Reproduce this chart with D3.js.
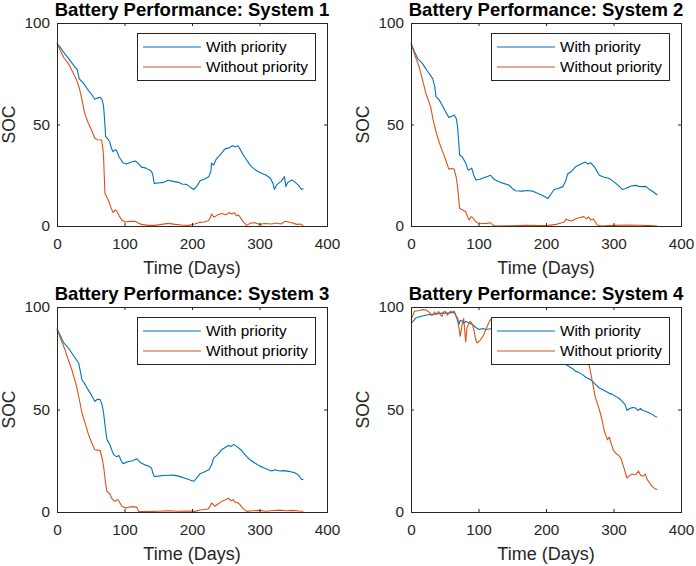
<!DOCTYPE html>
<html>
<head>
<meta charset="utf-8">
<script src="https://cdn.jsdelivr.net/npm/d3@7"></script>
<style>
  body { margin: 0; background: #fff; }
  svg { display: block; font-family: "Liberation Sans", Arial, sans-serif; }
</style>
</head>
<body>
<svg width="696" height="566"></svg>
<script>
// [day, SOC], one array per curve
const s1With = [[0,90],[5,88],[10,85.5],[17,82.6],[25,79],[30,77],[33,72.5],[40,70],[46,67],[52,64.5],[56,62.4],[60,63],[64,63.4],[67,62],[69,59],[71,50],[72,44],[75,43],[78,41.5],[81,38],[83,36.6],[86,37.5],[88,37.4],[92,34],[98,31],[103,30.5],[110,31.5],[116,32],[120,31],[125,29],[132,28.5],[140,27],[142,25],[144,21],[150,21.2],[158,21.5],[165,22.5],[172,22],[180,21.5],[185,20.7],[192,20.5],[198,19],[203,18],[208,20],[212,22.3],[218,23],[225,24.3],[228,27],[229,31],[232,30],[236,33],[239,34],[244,36],[249,38],[255,38.5],[260,39.5],[264,39],[268,39.5],[271,38],[276,35],[281,32.5],[286,30],[291,28.4],[297,27],[303,26],[310,25],[316,23.5],[320,21],[322,18],[325,20],[328,21],[332,22],[337,24.3],[339,19.4],[342,21.5],[348,22.7],[353,21.5],[358,20],[362,18],[365,18.5]];
const s1Without = [[0,90],[5,86.5],[10,83],[17,80],[23,76],[29,72],[33,68],[36,63.7],[41,55.5],[46,51],[51,47.3],[56,43.2],[60,42.5],[66,42.4],[68,38],[69,34],[71,16],[74,14],[76,12.8],[80,9],[83,6.6],[86,7.8],[88,7.6],[92,5],[96,3],[101,2],[108,2.3],[116,2.3],[120,1.5],[125,0.8],[135,0.3],[145,0.3],[155,0.8],[165,1.3],[175,0.8],[185,0.5],[195,0.3],[204,1],[212,1.8],[218,2],[224,2.6],[227,4],[229,5.9],[232,4.5],[234,4.6],[238,5.5],[244,6.2],[250,5.5],[255,6.5],[259,5.9],[263,6.5],[266,5],[269,5.4],[272,4],[276,2],[281,0.3],[287,1.5],[293,1.6],[300,0.8],[308,1.2],[318,1],[325,1.5],[332,1],[338,2.3],[343,2],[348,1.6],[355,0.8],[360,1],[365,0.3]];

const s2With = [[0,90],[5,86],[10,82.5],[17,80],[25,76],[32,72.7],[35,69],[37,63.7],[42,62],[46,59.6],[50,57],[56,53.5],[60,54],[64,54.7],[67,53],[69,49],[71,40],[72,35],[76,34],[81,31],[84,28],[86,27.6],[90,28.5],[93,25],[96,22.7],[102,23],[110,24],[118,25],[123,23],[130,21.8],[137,21],[145,20.2],[150,18.5],[155,17.4],[165,17.2],[172,17.5],[180,17.2],[188,16],[195,15],[203,13.6],[208,16],[212,18],[218,18.5],[225,19.4],[229,22],[232,25.6],[238,27],[244,29.2],[249,30],[254,30.9],[258,31.5],[262,30.5],[266,31.2],[272,29],[279,25],[286,24],[293,23.5],[300,22],[307,20],[313,18],[318,18.5],[326,19.7],[333,20],[338,19.5],[343,19.4],[348,19.5],[353,18],[358,17],[365,15.3]];
const s2Without = [[0,90],[6,84],[12,78.5],[17,72],[22,65.4],[29,58.8],[33,52],[37,46.5],[42,41],[46,37.4],[51,33],[56,28],[60,28.3],[64,28],[67,24],[69,19.4],[72,8.7],[76,8],[81,7],[84,4.5],[86,3],[89,4.5],[91,4.3],[95,2.5],[98,1.6],[105,1.2],[112,1.3],[118,1.6],[121,0.5],[125,0],[150,0.1],[170,0.3],[190,0.2],[204,0.3],[215,0.8],[222,1.5],[227,2],[230,3.5],[232,3],[238,2.5],[244,3.6],[250,4.2],[256,4.6],[260,3.5],[263,4.5],[266,3],[270,3.5],[273,2],[276,0.5],[282,0],[300,0.3],[320,0.5],[340,0.4],[355,0.2],[365,0]];

const s3With = [[0,89.4],[5,86],[10,82.5],[17,80],[25,76],[32,72.7],[35,68],[37,64.5],[42,62],[46,59.7],[51,57],[56,54],[60,55],[64,54.8],[67,52],[69,48.3],[72,40],[74,35.3],[78,33],[81,30.4],[84,28],[88,27],[92,27.5],[95,25],[98,23.6],[105,24.5],[112,25],[118,26],[124,24],[130,23],[135,22.5],[140,21.5],[142,19],[144,17.4],[150,17.5],[157,17.8],[165,17.9],[172,18],[180,17.5],[185,17],[192,16.2],[198,15.5],[203,15],[208,17],[212,18.7],[218,19.5],[225,20.6],[229,23],[232,26.3],[238,28],[244,30.4],[249,31.5],[254,32.4],[258,32],[262,33],[266,32],[272,30.5],[281,27],[286,25.5],[293,23.9],[300,22.5],[307,21.5],[313,20.6],[318,20],[323,20.6],[330,20],[336,20.2],[343,19.8],[348,19.5],[353,19],[358,18],[362,16],[365,15.8]];
const s3Without = [[0,89.4],[6,84],[12,79],[17,74],[22,69.4],[29,61.3],[33,55],[37,48.3],[42,43],[46,38.5],[51,34],[56,30.4],[60,30.2],[64,30],[67,26],[69,22.3],[72,14],[74,10],[78,9],[81,6.8],[84,5.5],[86,5.2],[89,6],[91,5.7],[94,4],[96,2.8],[102,2],[110,2.6],[118,2.4],[121,0.3],[130,0.2],[150,0.4],[165,0.6],[180,0.4],[195,0.5],[204,0.3],[212,1],[218,1.2],[224,1.5],[227,3],[229,4.4],[232,3.5],[234,2.8],[239,4],[244,5.2],[250,6],[254,6.7],[258,5.5],[261,6],[264,4.7],[268,4.5],[271,3.6],[276,1.5],[281,0.3],[290,0.6],[300,0.8],[310,0.4],[320,0.7],[330,0.9],[340,0.6],[350,0.8],[358,0.5],[365,0.4]];

const s4With = [[0,92.2],[3,93],[7,94.6],[15,95.5],[27,96.3],[35,96.5],[46,97],[55,97],[64,97.4],[66,96],[69,94.6],[71,91.4],[73,93.5],[76,93],[78,92],[81,93],[86,92.2],[91,91.5],[96,90],[101,89],[106,89.5],[111,89],[116,89.3],[120,89.5],[130,88],[140,87.5],[150,86],[160,85],[170,83],[180,81.5],[190,80],[200,78],[210,76],[220,74],[229,72],[234,71],[239,70],[244,68.6],[249,68],[254,67],[260,65.5],[264,65],[269,63.7],[274,62],[279,60.5],[285,59.5],[293,58],[298,57.5],[303,56.4],[308,55.5],[313,54],[317,52.5],[320,49.6],[324,50.5],[328,51],[333,50.7],[336,49.5],[340,50.5],[343,49.6],[348,49],[353,48.3],[358,47.5],[362,46.5],[365,46.3]];
const s4Without = [[0,93.8],[3,96],[5,97.9],[10,98.2],[17,98.7],[22,98.5],[27,97.5],[31,95.8],[35,97.5],[37,96.3],[41,97.8],[44,96],[46,95.4],[48,97.5],[51,97.8],[54,96],[56,97],[59,98],[61,97.5],[64,97.9],[66,96.5],[70,92],[73,85.7],[76,92],[78,94.5],[81,83],[83,90],[86,92],[88,93],[91,91.5],[93,89],[96,84],[98,82.4],[103,84],[107,86],[111,89],[116,93],[120,94.6],[126,93],[135,92.5],[150,91.5],[170,91],[190,90.5],[210,90],[230,89],[245,87],[255,82],[262,74],[265,70],[269,63],[273,56],[279,50],[283,45],[286,40],[289,37],[291,35.3],[294,36.5],[296,34],[300,30],[303,28.8],[308,27.5],[311,26.3],[315,22],[320,16.6],[323,17.5],[327,18.5],[333,18.2],[337,20],[340,18],[343,17.4],[347,18.5],[350,15.8],[354,14],[357,12.5],[361,11.5],[365,10.9]];

const xTicks = [0, 100, 200, 300, 400];
const yTicks = [0, 50, 100];
const seriesNames = ['With priority', 'Without priority'];
const seriesColors = ['#0072BD', '#D95319'];

const panels = [
  { title: 'Battery Performance: System 1', left: 57,  top: 23,  h: 203, data: [s1With, s1Without] },
  { title: 'Battery Performance: System 2', left: 411, top: 23,  h: 203, data: [s2With, s2Without] },
  { title: 'Battery Performance: System 3', left: 57,  top: 307, h: 205, data: [s3With, s3Without] },
  { title: 'Battery Performance: System 4', left: 411, top: 307, h: 205, data: [s4With, s4Without] }
];

const svg = d3.select('svg');
const axisColor = '#262626';
const W = 270;

panels.forEach(p => drawPanel(p));

function drawPanel(p) {
  const g = svg.append('g').attr('transform', `translate(${p.left},${p.top})`);
  const x = d3.scaleLinear().domain([0, 400]).range([0, W]);
  const y = d3.scaleLinear().domain([0, 100]).range([p.h, 0]);

  // curves
  const line = d3.line().x(d => x(d[0])).y(d => y(d[1]));
  p.data.forEach((s, i) => {
    g.append('path')
      .datum(s)
      .attr('fill', 'none')
      .attr('stroke', seriesColors[i])
      .attr('stroke-width', 1.1)
      .attr('stroke-linejoin', 'round')
      .attr('d', line);
  });

  // axes, ticks pointing inward on all four sides
  const styleAxis = sel => {
    sel.select('.domain').remove();
    sel.selectAll('line').attr('stroke', axisColor);
    sel.selectAll('text').attr('fill', axisColor).style('font-size', '15.3px');
  };
  g.append('g').attr('transform', `translate(0,${p.h})`)
    .call(d3.axisBottom(x).tickValues(xTicks).tickSize(-3).tickPadding(12))
    .call(styleAxis);
  g.append('g')
    .call(d3.axisTop(x).tickValues(xTicks).tickSize(-3).tickFormat(''))
    .call(styleAxis);
  g.append('g')
    .call(d3.axisLeft(y).tickValues(yTicks).tickSize(-3).tickPadding(7))
    .call(styleAxis);
  g.append('g').attr('transform', `translate(${W},0)`)
    .call(d3.axisRight(y).tickValues(yTicks).tickSize(-3).tickFormat(''))
    .call(styleAxis);

  g.append('rect')
    .attr('x', 0).attr('y', 0).attr('width', W).attr('height', p.h)
    .attr('fill', 'none').attr('stroke', axisColor).attr('stroke-width', 1)
    .attr('shape-rendering', 'crispEdges');

  // labels
  g.append('text')
    .attr('x', W / 2).attr('y', -7.5)
    .attr('text-anchor', 'middle')
    .style('font-size', '18.5px').style('font-weight', 'bold')
    .attr('fill', '#000')
    .text(p.title);
  g.append('text')
    .attr('x', W / 2).attr('y', p.h + 47.5)
    .attr('text-anchor', 'middle')
    .style('font-size', '18px')
    .attr('fill', axisColor)
    .text('Time (Days)');
  g.append('text')
    .attr('transform', `translate(-42,${p.h / 2}) rotate(-90)`)
    .attr('text-anchor', 'middle')
    .style('font-size', '17.5px')
    .attr('fill', axisColor)
    .text('SOC');

  // legend
  const lw = 178.5, lh = 46.5;
  const lg = g.append('g').attr('transform', `translate(${W - 11.5 - lw},10.5)`);
  lg.append('rect')
    .attr('width', lw).attr('height', lh)
    .attr('fill', '#fff').attr('stroke', axisColor).attr('stroke-width', 1)
    .attr('shape-rendering', 'crispEdges');
  seriesNames.forEach((name, i) => {
    const ly = 13.5 + i * 20;
    lg.append('line')
      .attr('x1', 6).attr('x2', 64).attr('y1', ly).attr('y2', ly)
      .attr('stroke', seriesColors[i]).attr('stroke-width', 1.1);
    lg.append('text')
      .attr('x', 69).attr('y', ly).attr('dy', '0.35em')
      .style('font-size', '15.3px')
      .attr('fill', '#000')
      .text(name);
  });
}
</script>
</body>
</html>
